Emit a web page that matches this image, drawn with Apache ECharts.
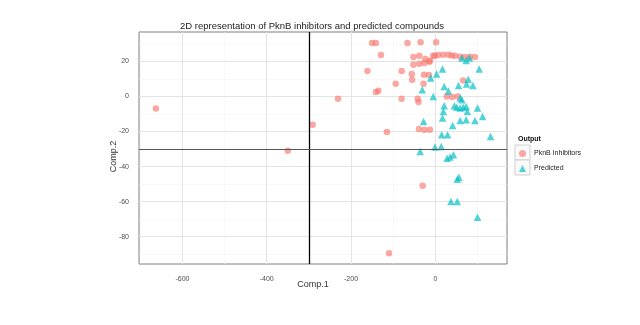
<!DOCTYPE html>
<html>
<head>
<meta charset="utf-8">
<script src="https://cdn.jsdelivr.net/npm/echarts@6/dist/echarts.min.js"></script>
<style>
html,body{margin:0;padding:0;background:#fff;}
#chart{width:640px;height:325px;}
</style>
</head>
<body>
<div id="chart"></div>
<script>
// ---- data ----
const inhibitorsComp1 = [-663,-350,-291,-231,-110,-115,-150,-141,-66,-35,2,-129,-161,-80,-94,-55,-56,-27,-15,-28,-135,-141,-80,-42,-40,-39,-26,-13,27,40,53,66,-30,-52,-38,-24,-13,-52,-38,-26,-14,-1,7,19,31,39,47,59,70,82,94,-5];
const inhibitorsComp2 = [-6.9,-30.9,-16.2,-1.3,-89.5,-20.3,30.5,30.5,30.5,30.9,30.9,23.7,14.5,14.5,7.3,9.5,12.8,12.4,12.2,7.3,3.3,2.5,-1.3,-1.3,-3.2,-18.6,-19,-19,0,-0.3,0,9.1,-51,22.5,23.3,21.4,20.4,18.1,18.7,19.1,19.8,23.3,23.7,23.8,23.8,23.4,23.3,22.7,22.5,22.7,22.5,23.3];
const predictedComp1 = [63,73,81,104,17,3,-11,-31,-5,21,31,55,74,78,89,59,63,21,45,51,59,66,73,76,100,19,17,-28,59,73,94,112,41,15,29,131,-36,-1,14,28,35,43,52,56,37,52,100];
const predictedComp2 = [21.9,20.6,21.9,15.7,15.7,12.8,10.5,3.8,0,5.7,3.1,6.3,7.1,9.9,6.3,-0.9,-1.9,-5.3,-5.3,-6.1,-6.6,-6.1,-5.7,-8.6,-6.6,-8.6,-12.3,-14.3,-13.7,-13.3,-13.7,-11.4,-16.6,-21.9,-21.9,-22.9,-31.4,-28.9,-28.6,-35.2,-34.6,-33.3,-47.2,-46.1,-60,-60,-68.9];
const xTicks = [-600,-400,-200,0];
const yTicks = [-80,-60,-40,-20,0,20];
const xMinor = [-700,-500,-300,-100,100];
const yMinor = [-90,-70,-50,-30,-10,10,30];
const refX = -300;
const refY = -30;
const seriesNames = ['PknB Inhibitors','Predicted'];

const FONT = 'Liberation Sans, Arial, sans-serif';
const toPairs = (a,b) => a.map((v,i)=>[v,b[i]]);

const gridLines = []
  .concat(xMinor.map(v=>({xAxis:v, lineStyle:{color:'#f3f3f3',width:0.6,type:'solid'}})))
  .concat(yMinor.map(v=>({yAxis:v, lineStyle:{color:'#f3f3f3',width:0.6,type:'solid'}})))
  .concat(xTicks.map(v=>({xAxis:v, lineStyle:{color:'#e4e4e4',width:1,type:'solid'}})))
  .concat(yTicks.map(v=>({yAxis:v, lineStyle:{color:'#e4e4e4',width:1,type:'solid'}})));

const chart = echarts.init(document.getElementById('chart'), null, {renderer:'canvas'});
chart.setOption({
  animation:false,
  backgroundColor:'#fff',
  title:{
    text:'2D representation of PknB inhibitors and predicted compounds',
    left:180, top:21, padding:0,
    textStyle:{fontFamily:FONT, fontSize:9.5, fontWeight:'normal', color:'#222'}
  },
  grid:{left:139, right:133, top:32, bottom:61, show:true, borderColor:'#7f7f7f', borderWidth:1, backgroundColor:'#fff'},
  xAxis:{
    type:'value', min:-703, max:170,
    name:'Comp.1', nameLocation:'middle', nameGap:16, nameMoveOverlap:false,
    nameTextStyle:{fontFamily:FONT, fontSize:9, color:'#333', padding:[0,20,0,0]},
    axisLine:{show:false},
    axisTick:{show:true, customValues:xTicks, length:4, lineStyle:{color:'#333',width:1}},
    axisLabel:{customValues:xTicks, margin:12, fontFamily:FONT, fontSize:7, color:'#4d4d4d'},
    splitLine:{show:false}
  },
  yAxis:{
    type:'value', min:-95.6, max:36.8,
    name:'Comp.2', nameLocation:'middle', nameGap:21, nameMoveOverlap:false,
    nameTextStyle:{fontFamily:FONT, fontSize:9, color:'#333', padding:[0,17,0,0]},
    axisLine:{show:false},
    axisTick:{show:true, customValues:yTicks, length:4, lineStyle:{color:'#333',width:1}},
    axisLabel:{customValues:yTicks, margin:10, fontFamily:FONT, fontSize:7, color:'#4d4d4d'},
    splitLine:{show:false}
  },
  legend:{
    data:seriesNames, orient:'vertical', left:519, top:150, padding:0,
    itemWidth:7, itemHeight:7, itemGap:8,
    textStyle:{fontFamily:FONT, fontSize:7, color:'#222', padding:[0,0,0,3]}
  },
  graphic:[
    {type:'text', left:518, top:136, z:10, style:{text:'Output', fontFamily:FONT, fontSize:7, fontWeight:'bold', fill:'#111'}},
    {type:'rect', shape:{x:515, y:145, width:15, height:15}, z:1, style:{fill:'#fafafa', stroke:'#cfcfcf', lineWidth:1}},
    {type:'rect', shape:{x:515, y:160, width:15, height:15}, z:1, style:{fill:'#fafafa', stroke:'#cfcfcf', lineWidth:1}}
  ],
  series:[
    {type:'scatter', data:[], z:1, silent:true,
     markLine:{silent:true, symbol:'none', z:1, label:{show:false}, animation:false, data:gridLines}},
    {name:seriesNames[0], type:'scatter', data:toPairs(inhibitorsComp1, inhibitorsComp2),
     symbol:'circle', symbolSize:6.5, z:3, itemStyle:{color:'rgba(248,118,109,0.8)'}},
    {name:seriesNames[1], type:'scatter', data:toPairs(predictedComp1, predictedComp2),
     symbol:'triangle', symbolSize:7.5, z:3, itemStyle:{color:'rgba(0,191,196,0.85)'}},
    {type:'scatter', data:[], z:5, silent:true,
     markLine:{silent:true, symbol:'none', label:{show:false}, animation:false,
       data:[{xAxis:refX, lineStyle:{color:'#000',width:1.3,type:'solid'}},
             {yAxis:refY, lineStyle:{color:'#555',width:1,type:'solid'}}]}}
  ]
});
</script>
</body>
</html>
